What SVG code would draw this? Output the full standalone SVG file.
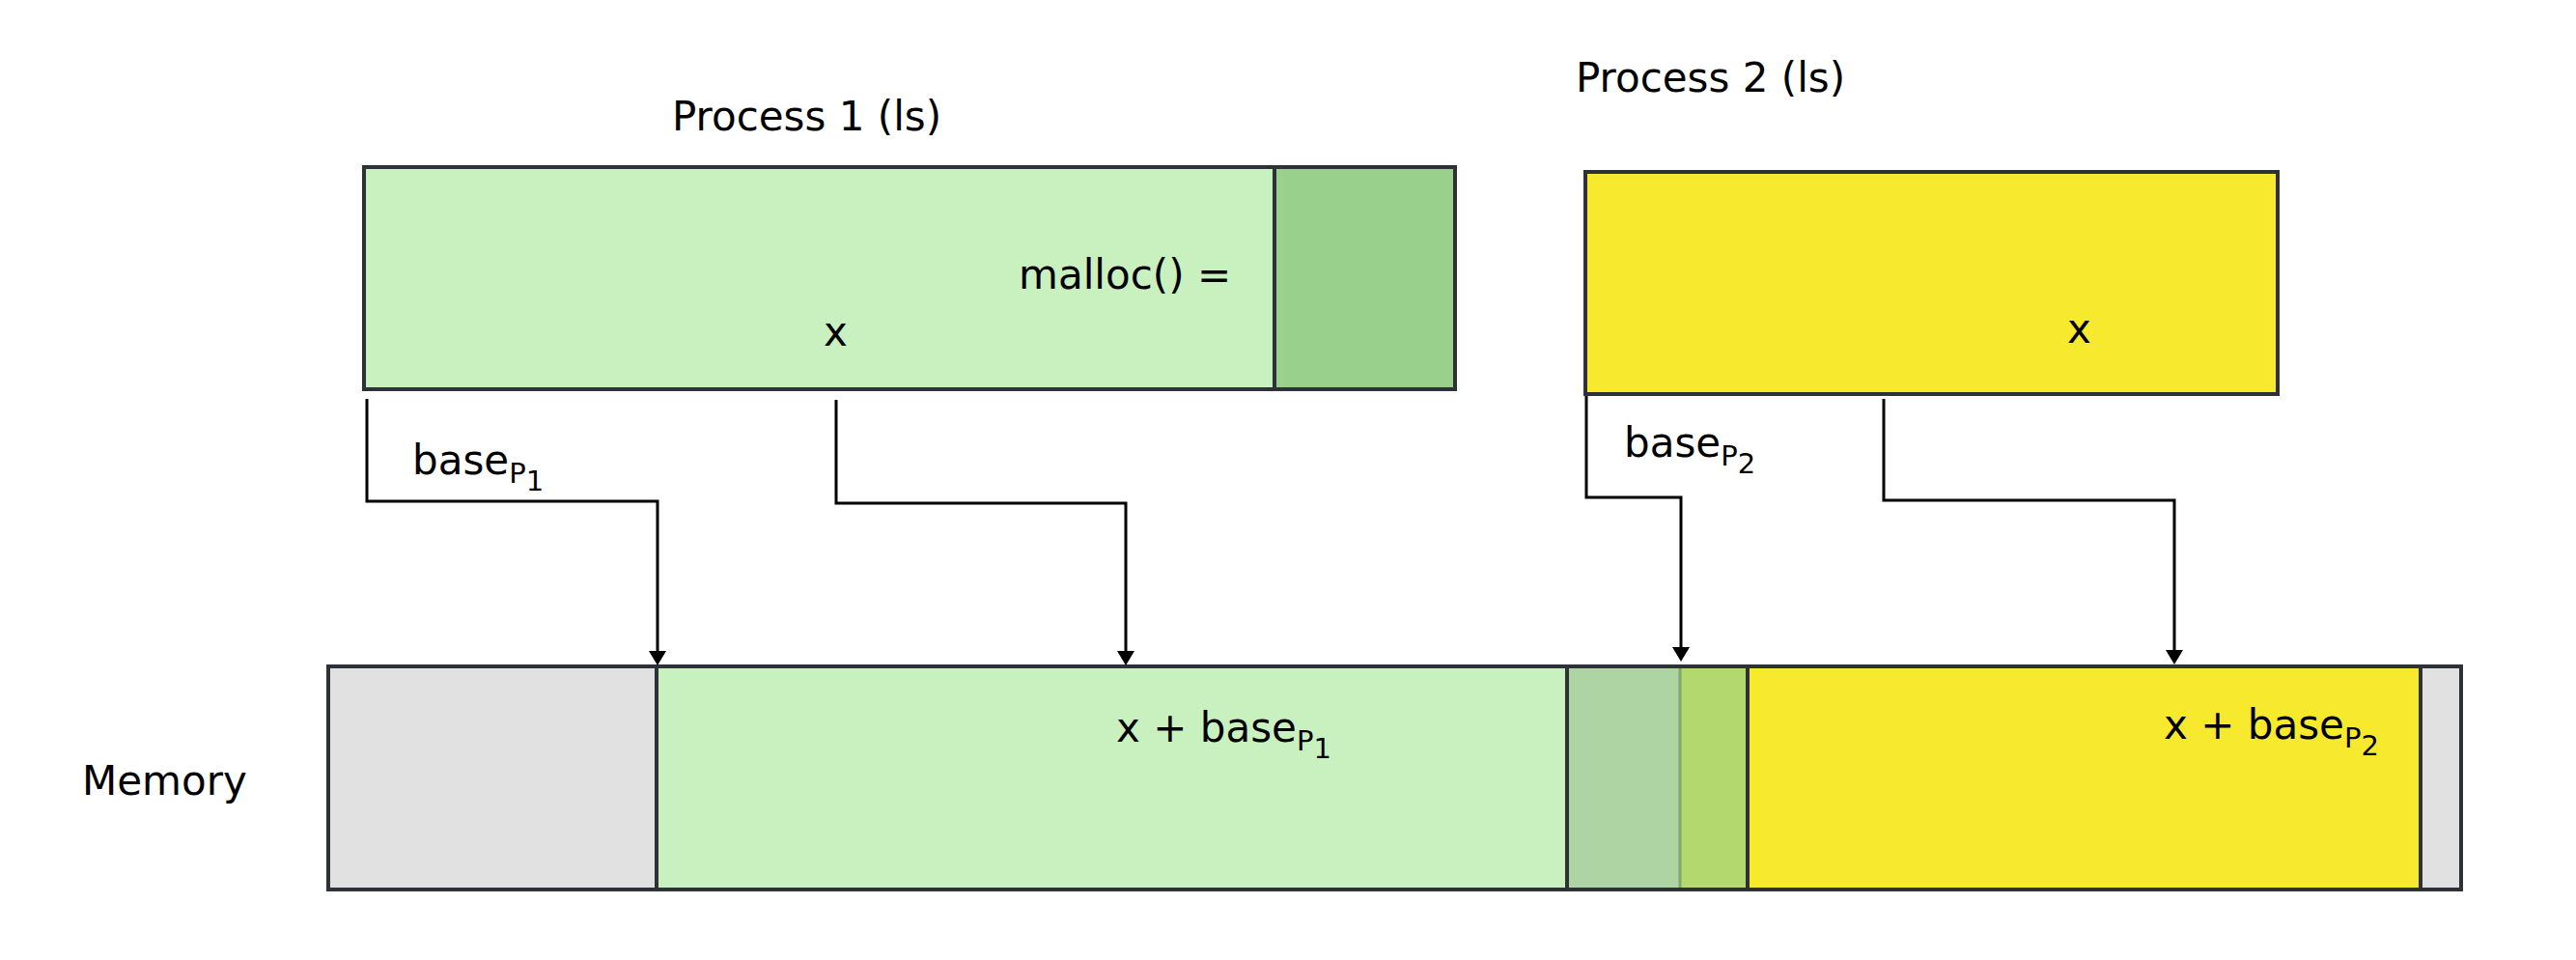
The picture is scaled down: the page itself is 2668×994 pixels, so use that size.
<svg xmlns="http://www.w3.org/2000/svg" width="2668" height="994" viewBox="0 0 2668 994">
<style>
.t{font-family:"DejaVu Sans","Liberation Sans",sans-serif;font-size:42px;fill:#000}
.s{font-size:29px}
.box{stroke:#2e3138;stroke-width:4}
.div{stroke:#2e3138;stroke-width:4;fill:none}
.conn{fill:none;stroke:#000;stroke-width:3}
</style>
<defs>
<marker id="arr" viewBox="0 0 15 18" refX="0" refY="9" markerWidth="15" markerHeight="18" markerUnits="userSpaceOnUse" orient="auto">
<path d="M0,0 L15,9 L0,18 z" fill="#000"/>
</marker>
</defs>
<rect width="2668" height="994" fill="#fff"/>

<g id="process1">
<rect x="377" y="173" width="943" height="230" fill="#c9f1bf"/>
<rect x="1320" y="173" width="187" height="230" fill="#99d08b"/>
<line class="div" x1="1320" y1="173" x2="1320" y2="403"/>
<rect class="box" x="377" y="173" width="1130" height="230" fill="none"/>
<text class="t" x="696" y="135">Process 1 (ls)</text>
<text class="t" x="1055" y="299">malloc() =</text>
<text class="t" x="853" y="358">x</text>
</g>

<g id="process2">
<rect class="box" x="1642" y="178" width="717" height="230" fill="#f7e92e"/>
<text class="t" x="1632" y="95">Process 2 (ls)</text>
<text class="t" x="2141" y="355">x</text>
</g>

<g id="memory">
<rect x="340" y="690" width="340" height="231" fill="#e1e1e1"/>
<rect x="680" y="690" width="943" height="231" fill="#c9f1bf"/>
<rect x="1623" y="690" width="117" height="231" fill="#aed4a3"/>
<rect x="1740" y="690" width="70" height="231" fill="#b3d86d"/>
<rect x="1810" y="690" width="697" height="231" fill="#f7e92e"/>
<rect x="2507" y="690" width="42" height="231" fill="#e1e1e1"/>
<line x1="1740" y1="690" x2="1740" y2="921" stroke="#7ca76e" stroke-width="3"/>
<line class="div" x1="680" y1="690" x2="680" y2="921"/>
<line class="div" x1="1623" y1="690" x2="1623" y2="921"/>
<line class="div" x1="1810" y1="690" x2="1810" y2="921"/>
<line class="div" x1="2507" y1="690" x2="2507" y2="921"/>
<rect class="box" x="340" y="690" width="2209" height="231" fill="none"/>
<text class="t" x="85" y="823">Memory</text>
<text class="t" x="1156" y="768">x + base<tspan class="s" dy="9">P</tspan><tspan class="s" dy="8">1</tspan></text>
<text class="t" x="2241" y="765">x + base<tspan class="s" dy="9">P</tspan><tspan class="s" dy="8">2</tspan></text>
</g>

<g id="connectors">
<path class="conn" d="M380,413 V519 H681 V674" marker-end="url(#arr)"/>
<path class="conn" d="M866,414 V521 H1166 V674" marker-end="url(#arr)"/>
<path class="conn" d="M1643,410 V515 H1741 V670" marker-end="url(#arr)"/>
<path class="conn" d="M1951,413 V518 H2252 V673" marker-end="url(#arr)"/>
<text class="t" x="427" y="491">base<tspan class="s" dy="9">P</tspan><tspan class="s" dy="8">1</tspan></text>
<text class="t" x="1682" y="473">base<tspan class="s" dy="9">P</tspan><tspan class="s" dy="8">2</tspan></text>
</g>
</svg>
